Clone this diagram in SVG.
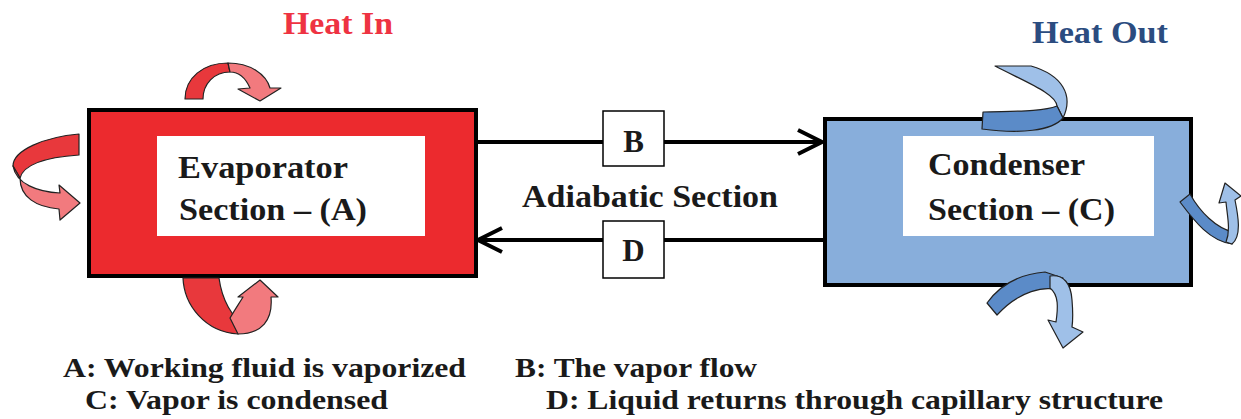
<svg xmlns="http://www.w3.org/2000/svg" width="1241" height="419" viewBox="0 0 1241 419">
<defs>
<style>
text{font-family:'Liberation Serif',serif;font-weight:700}
.t{fill:#1a1a1a}
.rd{fill:#e8383c;stroke:#222;stroke-width:1.2;stroke-linejoin:round}
.rl{fill:#f27a7e;stroke:#222;stroke-width:1.2;stroke-linejoin:round}
.bd{fill:#5b8bc8;stroke:#222;stroke-width:1.2;stroke-linejoin:round}
.bl{fill:#9fc0e8;stroke:#222;stroke-width:1.2;stroke-linejoin:round}
.ln{stroke:#000;stroke-width:4;fill:none}
.lbl{fill:#fff;stroke:#000;stroke-width:1.5}
</style>
<marker id="ah" markerWidth="30" markerHeight="30" viewBox="0 0 30 30" refX="27" refY="15" orient="auto" markerUnits="userSpaceOnUse">
<path d="M3,3 L27,15 L3,27" fill="none" stroke="#000" stroke-width="4"/>
</marker>
</defs>
<rect width="1241" height="419" fill="#fff"/>

<g id="connectors">
<line class="ln" x1="476" y1="142" x2="822" y2="142" marker-end="url(#ah)"/>
<line class="ln" x1="823" y1="240" x2="478" y2="240" marker-end="url(#ah)"/>
</g>

<g id="evaporator">
<rect x="89" y="110" width="387" height="166" fill="#ec2a2e" stroke="#000" stroke-width="4"/>
<rect x="157" y="136" width="268" height="100" fill="#fff"/>
<text class="t" x="178" y="178" font-size="32" textLength="170" lengthAdjust="spacingAndGlyphs">Evaporator</text>
<text class="t" x="179" y="220" font-size="32" textLength="188" lengthAdjust="spacingAndGlyphs">Section – (A)</text>
</g>

<g id="condenser">
<rect x="825" y="119" width="366" height="166" fill="#88aedb" stroke="#000" stroke-width="4"/>
<rect x="903" y="136" width="251" height="100" fill="#fff"/>
<text class="t" x="928" y="175" font-size="32" textLength="157" lengthAdjust="spacingAndGlyphs">Condenser</text>
<text class="t" x="928" y="220" font-size="32" textLength="187" lengthAdjust="spacingAndGlyphs">Section – (C)</text>
</g>

<g id="label-b">
<rect class="lbl" x="603" y="111" width="61" height="55"/>
<text class="t" x="633.5" y="152" font-size="31" text-anchor="middle">B</text>
</g>
<g id="label-d">
<rect class="lbl" x="603" y="221" width="61" height="57"/>
<text class="t" x="633.5" y="261" font-size="31" text-anchor="middle">D</text>
</g>

<g id="adiabatic">
<text class="t" x="522" y="207" font-size="32" textLength="256" lengthAdjust="spacingAndGlyphs">Adiabatic Section</text>
</g>

<g id="heat-in">
<text x="283" y="34" font-size="31" textLength="110" lengthAdjust="spacingAndGlyphs" fill="#ee3342">Heat In</text>
<path class="rd" d="M185,99 C185,78 203,63 228,63 L230,72 C214,72 203,84 203,99 Z"/>
<path class="rl" d="M228,63 C250,63 266,74 270,88 L281,88 L260,101 L238,89 L250,88 C246,79 240,72 230,72 Z"/>
<path class="rd" d="M79,134 C45,137 13,150 13,166 L20,178 C24,163 50,157 79,155 Z"/>
<path class="rl" d="M13,166 C16,184 38,192 60,193 L59,185 L80,203 L60,220 L59,209 C36,207 20,197 20,178 Z"/>
<path class="rd" d="M183,278 C184,305 205,332 238,334 L246,326 C232,318 222,300 219,278 Z"/>
<path class="rl" d="M230,318 C236,308 240,302 243,297 L238,297 L260,280 L278,297 L271,297 C273,320 262,334 238,334 Z"/>
</g>

<g id="heat-out">
<text x="1032" y="43" font-size="31" textLength="136" lengthAdjust="spacingAndGlyphs" fill="#2b4c80">Heat Out</text>
<path class="bl" d="M995,66 L1031,66 C1062,75 1074,95 1063,118 L1057,106 C1056,94 1030,84 995,66 Z"/>
<path class="bd" d="M983,112 C1010,111 1042,112 1057,106 L1063,118 C1052,131 1020,134 982,129 Z"/>
<path class="bd" d="M1180,202 L1190,194 C1200,212 1216,228 1233,232 L1232,244 C1210,241 1195,222 1180,202 Z"/>
<path class="bl" d="M1226,242 C1231,230 1227,215 1226,202 L1219,203 L1225,183 L1241,196 L1235,200 C1238,215 1242,236 1232,244 Z"/>
<path class="bd" d="M987,303 C1000,285 1020,274 1045,272 L1063,278 L1058,290 C1045,286 1020,290 997,315 Z"/>
<path class="bl" d="M1050,276 C1064,274 1071,284 1072,300 C1073,312 1073,320 1072,327 L1083,332 L1063,348 L1048,320 L1056,322 C1058,308 1059,295 1050,288 Z"/>
</g>

<g id="legend">
<text class="t" x="63" y="377" font-size="28" textLength="403" lengthAdjust="spacingAndGlyphs">A: Working fluid is vaporized</text>
<text class="t" x="515" y="377" font-size="28" textLength="242" lengthAdjust="spacingAndGlyphs">B: The vapor flow</text>
<text class="t" x="85" y="409" font-size="28" textLength="303" lengthAdjust="spacingAndGlyphs">C: Vapor is condensed</text>
<text class="t" x="546" y="409" font-size="28" textLength="617" lengthAdjust="spacingAndGlyphs">D: Liquid returns through capillary structure</text>
</g>
</svg>
